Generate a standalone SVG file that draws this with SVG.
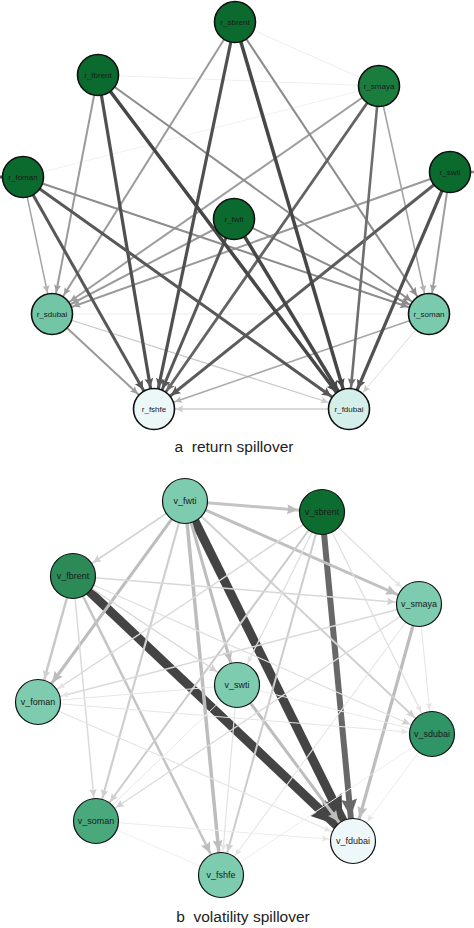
<svg xmlns="http://www.w3.org/2000/svg" width="474" height="928" viewBox="0 0 474 928">
<style>
.n circle{stroke:#111;stroke-width:1.6}
.b circle{stroke:#111;stroke-width:1.2}
text{font-family:"Liberation Sans",Arial,sans-serif;fill:#1a1a1a;text-anchor:middle}
.n text{font-size:8px}
.b text{font-size:9px}
.cap{font-size:15.5px;fill:#222;white-space:pre}
line{stroke-linecap:butt}
</style>
<defs>
<marker id="tA" markerUnits="userSpaceOnUse" orient="auto" markerWidth="60" markerHeight="60" refX="31" refY="0" overflow="visible"><path d="M0,-4.5L9,0L0,4.5L1.5,0z" fill="#474747"/></marker>
<marker id="tB" markerUnits="userSpaceOnUse" orient="auto" markerWidth="60" markerHeight="60" refX="31" refY="0" overflow="visible"><path d="M0,-4.5L9,0L0,4.5L1.5,0z" fill="#585858"/></marker>
<marker id="tC" markerUnits="userSpaceOnUse" orient="auto" markerWidth="60" markerHeight="60" refX="30.5" refY="0" overflow="visible"><path d="M0,-4L8.5,0L0,4L1.5,0z" fill="#6e6e6e"/></marker>
<marker id="tD" markerUnits="userSpaceOnUse" orient="auto" markerWidth="60" markerHeight="60" refX="30" refY="0" overflow="visible"><path d="M0,-4L8,0L0,4L1.5,0z" fill="#8c8c8c"/></marker>
<marker id="tE" markerUnits="userSpaceOnUse" orient="auto" markerWidth="60" markerHeight="60" refX="29.5" refY="0" overflow="visible"><path d="M0,-3.5L7.5,0L0,3.5L1.2,0z" fill="#9e9e9e"/></marker>
<marker id="tF" markerUnits="userSpaceOnUse" orient="auto" markerWidth="60" markerHeight="60" refX="29" refY="0" overflow="visible"><path d="M0,-3.5L7,0L0,3.5L1.2,0z" fill="#b5b5b5"/></marker>
<marker id="tG" markerUnits="userSpaceOnUse" orient="auto" markerWidth="60" markerHeight="60" refX="29" refY="0" overflow="visible"><path d="M0,-3.5L7,0L0,3.5L1.2,0z" fill="#cccccc"/></marker>
<marker id="bK" markerUnits="userSpaceOnUse" orient="auto" markerWidth="80" markerHeight="80" refX="48" refY="0" overflow="visible"><path d="M0,-11L24,0L0,11L3,0z" fill="#454545"/></marker>
<marker id="bM" markerUnits="userSpaceOnUse" orient="auto" markerWidth="80" markerHeight="80" refX="42" refY="0" overflow="visible"><path d="M0,-8L18,0L0,8L2.5,0z" fill="#686868"/></marker>
<marker id="bG" markerUnits="userSpaceOnUse" orient="auto" markerWidth="60" markerHeight="60" refX="35" refY="0" overflow="visible"><path d="M0,-5L11,0L0,5L1.5,0z" fill="#bdbdbd"/></marker>
<marker id="bL" markerUnits="userSpaceOnUse" orient="auto" markerWidth="60" markerHeight="60" refX="32" refY="0" overflow="visible"><path d="M0,-3.8L8,0L0,3.8L1.2,0z" fill="#d0d0d0"/></marker>
<marker id="bV" markerUnits="userSpaceOnUse" orient="auto" markerWidth="60" markerHeight="60" refX="31" refY="0" overflow="visible"><path d="M0,-3L7,0L0,3L1,0z" fill="#e4e4e4"/></marker>
</defs>

<g id="edges-a">
<line x1="235" y1="22" x2="379" y2="86" stroke="#eeeeee" stroke-width="1"/>
<line x1="98" y1="75" x2="379" y2="86" stroke="#eeeeee" stroke-width="1"/>
<line x1="23" y1="177" x2="379" y2="86" stroke="#f0f0f0" stroke-width="1"/>
<line x1="52" y1="314" x2="429" y2="314" stroke="#eeeeee" stroke-width="1"/>
<line x1="23" y1="177" x2="0" y2="177" stroke="#555" stroke-width="3"/>
<line x1="450" y1="172" x2="474" y2="172" stroke="#8c8c8c" stroke-width="2.5"/>
<line x1="429" y1="314" x2="349" y2="409" stroke="#dddddd" stroke-width="1" marker-end="url(#tG)"/>
<line x1="349" y1="409" x2="154" y2="409" stroke="#cccccc" stroke-width="1.5" marker-end="url(#tG)"/>
<line x1="52" y1="314" x2="349" y2="409" stroke="#c8c8c8" stroke-width="1.2" marker-end="url(#tG)"/>
<line x1="429" y1="314" x2="154" y2="409" stroke="#a8a8a8" stroke-width="1.6" marker-end="url(#tF)"/>
<line x1="52" y1="314" x2="154" y2="409" stroke="#9a9a9a" stroke-width="2" marker-end="url(#tE)"/>
<line x1="23" y1="177" x2="52" y2="314" stroke="#a5a5a5" stroke-width="1.5" marker-end="url(#tF)"/>
<line x1="98" y1="75" x2="52" y2="314" stroke="#9a9a9a" stroke-width="2" marker-end="url(#tE)"/>
<line x1="235" y1="22" x2="52" y2="314" stroke="#9a9a9a" stroke-width="2" marker-end="url(#tE)"/>
<line x1="379" y1="86" x2="52" y2="314" stroke="#9e9e9e" stroke-width="2" marker-end="url(#tE)"/>
<line x1="234" y1="219" x2="52" y2="314" stroke="#9a9a9a" stroke-width="2" marker-end="url(#tE)"/>
<line x1="450" y1="172" x2="52" y2="314" stroke="#9a9a9a" stroke-width="2" marker-end="url(#tE)"/>
<line x1="23" y1="177" x2="429" y2="314" stroke="#8c8c8c" stroke-width="2" marker-end="url(#tD)"/>
<line x1="98" y1="75" x2="429" y2="314" stroke="#8c8c8c" stroke-width="2" marker-end="url(#tD)"/>
<line x1="235" y1="22" x2="429" y2="314" stroke="#8c8c8c" stroke-width="2" marker-end="url(#tD)"/>
<line x1="379" y1="86" x2="429" y2="314" stroke="#a5a5a5" stroke-width="1.6" marker-end="url(#tF)"/>
<line x1="234" y1="219" x2="429" y2="314" stroke="#8c8c8c" stroke-width="2" marker-end="url(#tD)"/>
<line x1="450" y1="172" x2="429" y2="314" stroke="#9e9e9e" stroke-width="2" marker-end="url(#tE)"/>
<line x1="23" y1="177" x2="154" y2="409" stroke="#585858" stroke-width="3" marker-end="url(#tB)"/>
<line x1="98" y1="75" x2="154" y2="409" stroke="#505050" stroke-width="3.2" marker-end="url(#tB)"/>
<line x1="235" y1="22" x2="154" y2="409" stroke="#505050" stroke-width="3.2" marker-end="url(#tB)"/>
<line x1="379" y1="86" x2="154" y2="409" stroke="#636363" stroke-width="2.8" marker-end="url(#tC)"/>
<line x1="234" y1="219" x2="154" y2="409" stroke="#585858" stroke-width="3" marker-end="url(#tB)"/>
<line x1="450" y1="172" x2="154" y2="409" stroke="#5c5c5c" stroke-width="3" marker-end="url(#tB)"/>
<line x1="23" y1="177" x2="349" y2="409" stroke="#585858" stroke-width="3" marker-end="url(#tB)"/>
<line x1="98" y1="75" x2="349" y2="409" stroke="#474747" stroke-width="3.5" marker-end="url(#tA)"/>
<line x1="235" y1="22" x2="349" y2="409" stroke="#474747" stroke-width="3.5" marker-end="url(#tA)"/>
<line x1="379" y1="86" x2="349" y2="409" stroke="#6e6e6e" stroke-width="2.6" marker-end="url(#tC)"/>
<line x1="234" y1="219" x2="349" y2="409" stroke="#474747" stroke-width="3.5" marker-end="url(#tA)"/>
<line x1="450" y1="172" x2="349" y2="409" stroke="#525252" stroke-width="3.2" marker-end="url(#tB)"/>
</g>

<g id="r_sbrent" class="n"><circle cx="235" cy="22" r="20.5" fill="#0b6b2e"/><text x="235" y="24.8">r_sbrent</text></g>
<g id="r_fbrent" class="n"><circle cx="98" cy="75" r="20.5" fill="#0b6b2e"/><text x="98" y="77.8">r_fbrent</text></g>
<g id="r_smaya" class="n"><circle cx="379" cy="86" r="20.5" fill="#1a7d3e"/><text x="379" y="88.8">r_smaya</text></g>
<g id="r_foman" class="n"><circle cx="23" cy="177" r="20.5" fill="#0b6b2e"/><text x="23" y="179.8">r_foman</text></g>
<g id="r_swti" class="n"><circle cx="450" cy="172" r="20.5" fill="#0b6b2e"/><text x="450" y="174.8">r_swti</text></g>
<g id="r_fwti" class="n"><circle cx="234" cy="219" r="20.5" fill="#0b6b2e"/><text x="234" y="221.8">r_fwti</text></g>
<g id="r_sdubai" class="n"><circle cx="52" cy="314" r="20.5" fill="#72c6a6"/><text x="52" y="316.8">r_sdubai</text></g>
<g id="r_soman" class="n"><circle cx="429" cy="314" r="20.5" fill="#7acbad"/><text x="429" y="316.8">r_soman</text></g>
<g id="r_fshfe" class="n"><circle cx="154" cy="409" r="20.5" fill="#ecf8f8"/><text x="154" y="411.8">r_fshfe</text></g>
<g id="r_fdubai" class="n"><circle cx="349" cy="409" r="20.5" fill="#d4efe9"/><text x="349" y="411.8">r_fdubai</text></g>
<text class="cap" x="234" y="452">a  return spillover</text>

<g id="edges-b">
<line x1="185" y1="501" x2="353" y2="841" stroke="#444444" stroke-width="9" marker-end="url(#bK)"/>
<line x1="73" y1="576" x2="353" y2="841" stroke="#444444" stroke-width="9" marker-end="url(#bK)"/>
<line x1="322" y1="512" x2="353" y2="841" stroke="#686868" stroke-width="6" marker-end="url(#bM)"/>
<line x1="185" y1="501" x2="322" y2="512" stroke="#c4c4c4" stroke-width="3" marker-end="url(#bG)"/>
<line x1="185" y1="501" x2="419" y2="604" stroke="#c0c0c0" stroke-width="3" marker-end="url(#bG)"/>
<line x1="185" y1="501" x2="38" y2="702" stroke="#bdbdbd" stroke-width="3" marker-end="url(#bG)"/>
<line x1="185" y1="501" x2="237" y2="685" stroke="#bdbdbd" stroke-width="3" marker-end="url(#bG)"/>
<line x1="185" y1="501" x2="221" y2="875" stroke="#bdbdbd" stroke-width="3.5" marker-end="url(#bG)"/>
<line x1="419" y1="604" x2="353" y2="841" stroke="#bdbdbd" stroke-width="3.2" marker-end="url(#bG)"/>
<line x1="237" y1="685" x2="353" y2="841" stroke="#bdbdbd" stroke-width="3" marker-end="url(#bG)"/>
<line x1="73" y1="576" x2="38" y2="702" stroke="#c8c8c8" stroke-width="2.5" marker-end="url(#bL)"/>
<line x1="73" y1="576" x2="221" y2="875" stroke="#c4c4c4" stroke-width="2.5" marker-end="url(#bG)"/>
<line x1="185" y1="501" x2="96" y2="821" stroke="#cfcfcf" stroke-width="2.2" marker-end="url(#bL)"/>
<line x1="185" y1="501" x2="73" y2="576" stroke="#d2d2d2" stroke-width="1.6" marker-end="url(#bL)"/>
<line x1="185" y1="501" x2="432" y2="734" stroke="#d0d0d0" stroke-width="2" marker-end="url(#bL)"/>
<line x1="322" y1="512" x2="96" y2="821" stroke="#cccccc" stroke-width="2" marker-end="url(#bL)"/>
<line x1="322" y1="512" x2="221" y2="875" stroke="#cccccc" stroke-width="2" marker-end="url(#bL)"/>
<line x1="322" y1="512" x2="38" y2="702" stroke="#dadada" stroke-width="1.5" marker-end="url(#bV)"/>
<line x1="322" y1="512" x2="237" y2="685" stroke="#dedede" stroke-width="1.3" marker-end="url(#bV)"/>
<line x1="73" y1="576" x2="237" y2="685" stroke="#d8d8d8" stroke-width="1.5" marker-end="url(#bL)"/>
<line x1="73" y1="576" x2="419" y2="604" stroke="#d8d8d8" stroke-width="1.5" marker-end="url(#bL)"/>
<line x1="73" y1="576" x2="96" y2="821" stroke="#dadada" stroke-width="1.5" marker-end="url(#bL)"/>
<line x1="419" y1="604" x2="38" y2="702" stroke="#dadada" stroke-width="1.5" marker-end="url(#bV)"/>
<line x1="419" y1="604" x2="96" y2="821" stroke="#dcdcdc" stroke-width="1.3" marker-end="url(#bL)"/>
<line x1="322" y1="512" x2="419" y2="604" stroke="#e2e2e2" stroke-width="1.2" marker-end="url(#bV)"/>
<line x1="322" y1="512" x2="432" y2="734" stroke="#e0e0e0" stroke-width="1.3" marker-end="url(#bV)"/>
<line x1="73" y1="576" x2="432" y2="734" stroke="#e0e0e0" stroke-width="1.3" marker-end="url(#bL)"/>
<line x1="38" y1="702" x2="353" y2="841" stroke="#e4e4e4" stroke-width="1.2" marker-end="url(#bV)"/>
<line x1="38" y1="702" x2="432" y2="734" stroke="#e6e6e6" stroke-width="1.1" marker-end="url(#bV)"/>
<line x1="38" y1="702" x2="237" y2="685" stroke="#e6e6e6" stroke-width="1.1"/>
<line x1="419" y1="604" x2="221" y2="875" stroke="#e6e6e6" stroke-width="1.1" marker-end="url(#bV)"/>
<line x1="419" y1="604" x2="432" y2="734" stroke="#e6e6e6" stroke-width="1.1" marker-end="url(#bV)"/>
<line x1="96" y1="821" x2="353" y2="841" stroke="#ececec" stroke-width="1" marker-end="url(#bV)"/>
<line x1="96" y1="821" x2="221" y2="875" stroke="#f0f0f0" stroke-width="1"/>
<line x1="432" y1="734" x2="353" y2="841" stroke="#ececec" stroke-width="1" marker-end="url(#bV)"/>
<line x1="237" y1="685" x2="221" y2="875" stroke="#e2e2e2" stroke-width="1.2" marker-end="url(#bV)"/>
<line x1="237" y1="685" x2="96" y2="821" stroke="#e8e8e8" stroke-width="1"/>
<line x1="221" y1="875" x2="432" y2="734" stroke="#ececec" stroke-width="1"/>
<line x1="237" y1="685" x2="432" y2="734" stroke="#e8e8e8" stroke-width="1"/>
</g>

<g id="v_fwti" class="b"><circle cx="185" cy="501" r="22.5" fill="#7dccb0"/><text x="185" y="504">v_fwti</text></g>
<g id="v_sbrent" class="b"><circle cx="322" cy="512" r="22.5" fill="#0d6d30"/><text x="322" y="515">v_sbrent</text></g>
<g id="v_fbrent" class="b"><circle cx="73" cy="576" r="22.5" fill="#2b8a56"/><text x="73" y="579">v_fbrent</text></g>
<g id="v_smaya" class="b"><circle cx="419" cy="604" r="22.5" fill="#7dccb0"/><text x="419" y="607">v_smaya</text></g>
<g id="v_swti" class="b"><circle cx="237" cy="685" r="22.5" fill="#7dccb0"/><text x="237" y="688">v_swti</text></g>
<g id="v_foman" class="b"><circle cx="38" cy="702" r="22.5" fill="#7dccb0"/><text x="38" y="705">v_foman</text></g>
<g id="v_sdubai" class="b"><circle cx="432" cy="734" r="22.5" fill="#2f9466"/><text x="432" y="737">v_sdubai</text></g>
<g id="v_soman" class="b"><circle cx="96" cy="821" r="22.5" fill="#4aa97c"/><text x="96" y="824">v_soman</text></g>
<g id="v_fdubai" class="b"><circle cx="353" cy="841" r="22.5" fill="#eef8fa"/><text x="353" y="844">v_fdubai</text></g>
<g id="v_fshfe" class="b"><circle cx="221" cy="875" r="22.5" fill="#7dccb0"/><text x="221" y="878">v_fshfe</text></g>
<text class="cap" x="243" y="922">b  volatility spillover</text>
</svg>
